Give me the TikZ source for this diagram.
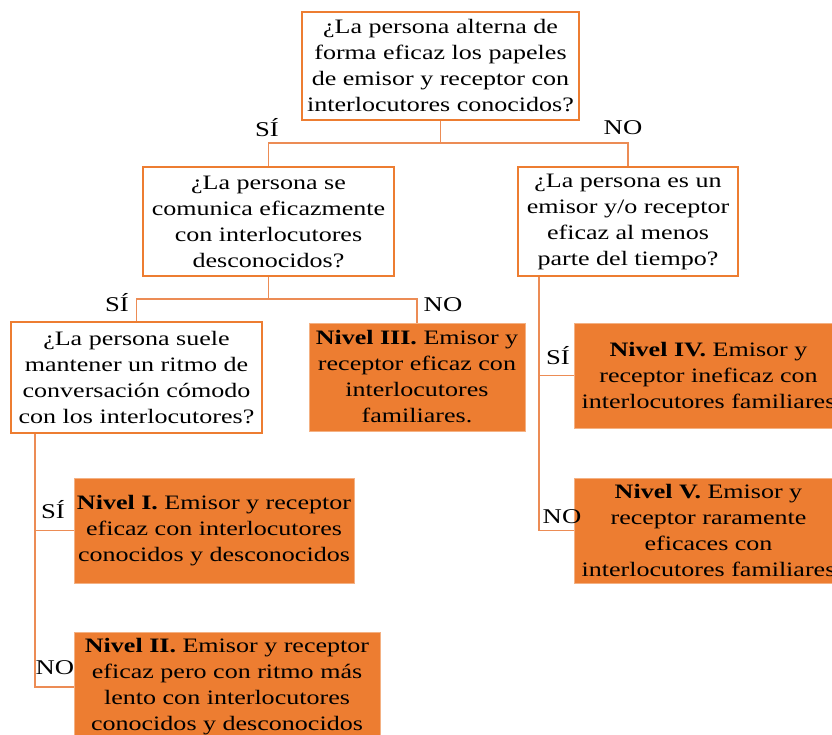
\documentclass[tikz,border=0pt]{standalone}
\usepackage{fontspec}
\setmainfont{Liberation Serif}[FakeStretch=1.27]
\definecolor{boxorange}{RGB}{237,125,49}
\definecolor{lineorange}{RGB}{236,140,85}
\begin{document}
\begin{tikzpicture}[x=1pt,y=-1pt,
  txt/.style={font=\fontsize{20.5}{26}\selectfont,align=center,inner sep=0pt},
  qbox/.style={txt,draw=boxorange,line width=1.5pt,fill=white},
  lbox/.style={txt,fill=boxorange,draw=boxorange!60!white,line width=0.6pt},
  conn/.style={draw=lineorange,line width=1.8pt},
  lab/.style={font=\fontsize{21}{24}\selectfont,inner sep=0pt}]
\useasboundingbox (0,0) rectangle (832,735);
% question boxes
\node[qbox,minimum width=277pt,minimum height=108pt] (A) at (440.5,66)
  {¿La persona alterna de\\forma eficaz los papeles\\de emisor y receptor con\\interlocutores conocidos?};
\node[qbox,minimum width=251pt,minimum height=109pt] (B) at (268.5,221.5)
  {¿La persona se\\comunica eficazmente\\con interlocutores\\desconocidos?};
\node[qbox,minimum width=220pt,minimum height=109pt] (C) at (628,221.5)
  {¿La persona es un\\emisor y/o receptor\\eficaz al menos\\parte del tiempo?};
\node[qbox,minimum width=251pt,minimum height=111pt] (D) at (136.5,377.5)
  {¿La persona suele\\mantener un ritmo de\\conversación cómodo\\con los interlocutores?};
% level boxes
\node[lbox,minimum width=216pt,minimum height=108pt] (E) at (417,377)
  {\textbf{Nivel III.} Emisor y\\receptor eficaz con\\interlocutores\\familiares.};
\node[lbox,minimum width=269pt,minimum height=105pt] (F) at (708.5,375.5)
  {\textbf{Nivel IV.} Emisor y\\receptor ineficaz con\\interlocutores familiares};
\node[lbox,minimum width=269pt,minimum height=105pt] (G) at (708.5,530.5)
  {\textbf{Nivel V.} Emisor y\\receptor raramente\\eficaces con\\interlocutores familiares};
\node[lbox,minimum width=280pt,minimum height=105pt] (H) at (214,530.5)
  {\textbf{Nivel I.} Emisor y receptor\\eficaz con interlocutores\\conocidos y desconocidos};
\node[lbox,minimum width=306pt,minimum height=110pt] (I) at (227,687)
  {\textbf{Nivel II.} Emisor y receptor\\eficaz pero con ritmo más\\lento con interlocutores\\conocidos y desconocidos};
% junctions
\coordinate (j1) at (440.5,143);
\coordinate (j2) at (268.5,299);
\coordinate (j3) at ([xshift=22pt]C.south west);
\coordinate (j4) at ([xshift=25pt]D.south west);
% connectors
\draw[conn] (A.south) -- (j1) -| (B.north);
\draw[conn] (j1) -| (C.north);
\draw[conn] (B.south) -- (j2) -| (D.north);
\draw[conn] (j2) -| (E.north);
\draw[conn] (j3) |- (F.west);
\draw[conn] (j3) |- (G.west);
\draw[conn] (j4) |- (H.west);
\draw[conn] (j4) |- (I.west);
% labels
\node[lab] (s1) at (267,128) {SÍ};
\node[lab] (n1) at (623,128) {NO};
\node[lab] (s2) at (117,303) {SÍ};
\node[lab] (n2) at (443,305) {NO};
\node[lab] (s3) at (558,356) {SÍ};
\node[lab] (n3) at (562,517) {NO};
\node[lab] (s4) at (53,510) {SÍ};
\node[lab] (n4) at (55,668) {NO};
\end{tikzpicture}
\end{document}
